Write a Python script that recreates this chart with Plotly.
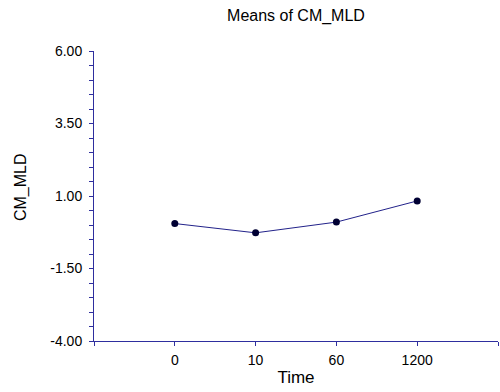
import plotly.graph_objects as go

# Group means of CM_MLD at each time point
time_labels = ["0", "10", "60", "1200"]
mean_values = [0.05, -0.27, 0.10, 0.83]

# Y axis: labelled ticks with two decimals
y_tick_values = [-4.0, -1.5, 1.0, 3.5, 6.0]

axis_color = "#2E2E9E"
line_color = "#22228A"
marker_color = "#000033"
font_family = "Arial, Liberation Sans, sans-serif"

x_positions = list(range(len(time_labels)))

fig = go.Figure()
fig.add_trace(go.Scatter(
    x=x_positions,
    y=mean_values,
    mode="lines+markers",
    line=dict(color=line_color, width=1),
    marker=dict(color=marker_color, size=7),
    showlegend=False,
))

fig.update_layout(
    width=500,
    height=392,
    margin=dict(l=94, r=2, t=51, b=51),
    paper_bgcolor="white",
    plot_bgcolor="white",
    font=dict(family=font_family, color="black", size=14),
    title=dict(
        text="Means of CM_MLD",
        x=0.5,
        xref="paper",
        y=1 - 15 / 392,
        yref="container",
        yanchor="middle",
        xanchor="center",
        font=dict(size=16, family=font_family, color="black"),
    ),
)

# Rotated y-axis title placed beside the tick labels
fig.add_annotation(
    text="CM_MLD",
    textangle=-90,
    xref="paper", yref="paper",
    x=(21 - 94) / 404, y=(341.3 - 187) / 290.6,
    xanchor="center", yanchor="middle",
    showarrow=False,
    font=dict(size=16, family=font_family, color="black"),
)

fig.update_xaxes(
    range=[-1, len(time_labels)],
    tickmode="array",
    tickvals=[-1] + x_positions + [len(time_labels)],
    ticktext=[""] + time_labels + [""],
    ticks="outside",
    ticklen=4,
    tickcolor=axis_color,
    showline=True,
    linecolor=axis_color,
    linewidth=1,
    showgrid=False,
    zeroline=False,
    tickfont=dict(size=14),
    ticklabelstandoff=2,
    title=dict(text="Time", font=dict(size=17), standoff=4),
)

fig.update_yaxes(
    range=[-4, 6],
    tickmode="array",
    tickvals=y_tick_values,
    ticktext=[f"{v:.2f}" for v in y_tick_values],
    ticks="outside",
    ticklen=4,
    tickcolor=axis_color,
    minor=dict(dtick=0.5, tick0=-4, ticks="outside", ticklen=4, tickcolor=axis_color, showgrid=False),
    showline=True,
    linecolor=axis_color,
    linewidth=1,
    showgrid=False,
    zeroline=False,
    tickfont=dict(size=14),
    ticklabelstandoff=4,
)

fig.write_html("out.html")
